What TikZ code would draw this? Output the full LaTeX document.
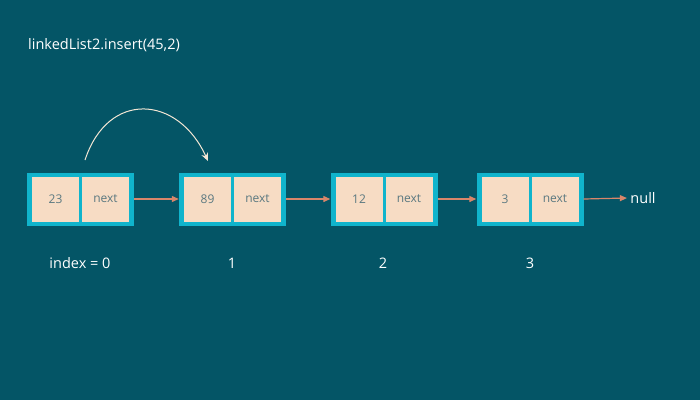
\documentclass[tikz,border=0pt]{standalone}
\usepackage{fontspec}
\setmainfont{Open Sans}
\usetikzlibrary{arrows.meta}
\definecolor{bg}{RGB}{4,85,102}
\definecolor{cy}{RGB}{16,180,204}
\definecolor{cell}{RGB}{247,220,196}
\definecolor{ctext}{RGB}{90,120,128}
\definecolor{arr}{RGB}{217,134,106}
\definecolor{cream}{RGB}{242,230,212}
\tikzset{
 outer/.style={fill=cy,draw=none,minimum width=107pt,minimum height=53pt,inner sep=0pt},
 cellbox/.style={fill=cell,draw=none,minimum width=47pt,minimum height=45pt,inner sep=0pt,text=ctext,font=\fontsize{12}{14}\selectfont},
 link/.style={draw=arr,line width=1.2pt,-{Triangle[length=7pt,width=6pt]}},
 lbl/.style={text=white,font=\fontsize{14.5}{17}\selectfont},
}
\begin{document}
\begin{tikzpicture}[x=1pt,y=-1pt]
\fill[bg] (0,0) rectangle (700,400);
\useasboundingbox (0,0) rectangle (700,400);
\node[lbl,anchor=west,inner sep=0pt] (title) at (28,45) {linkedList2.insert(45,2)};
\foreach \n/\x/\a in {a/80.5/23,b/232.5/89,c/384/12,d/530/3}{
 \node[outer] (\n) at (\x,199) {};
 \node[cellbox] (\n1) at (\x-25,199) {\a};
 \node[cellbox] (\n2) at (\x+25,199) {next};
}
\node[lbl] (null) at (643,198) {null};
\draw[link] (a.east) -- (b.west);
\draw[link] (b.east) -- (c.west);
\draw[link] (c.east) -- (d.west);
\draw[link] (d.east) -- (null.west);
\coordinate (s) at (85,160);
\draw[cream,line width=1pt,-{Stealth[length=8pt,width=7pt]}] (s) .. controls (108,90) and (178,95) .. (208,161);
\node[lbl] (i0) at (80,263) {index = 0};
\node[lbl] (i1) at (232,263) {1};
\node[lbl] (i2) at (383,263) {2};
\node[lbl] (i3) at (530,263) {3};
\end{tikzpicture}
\end{document}
